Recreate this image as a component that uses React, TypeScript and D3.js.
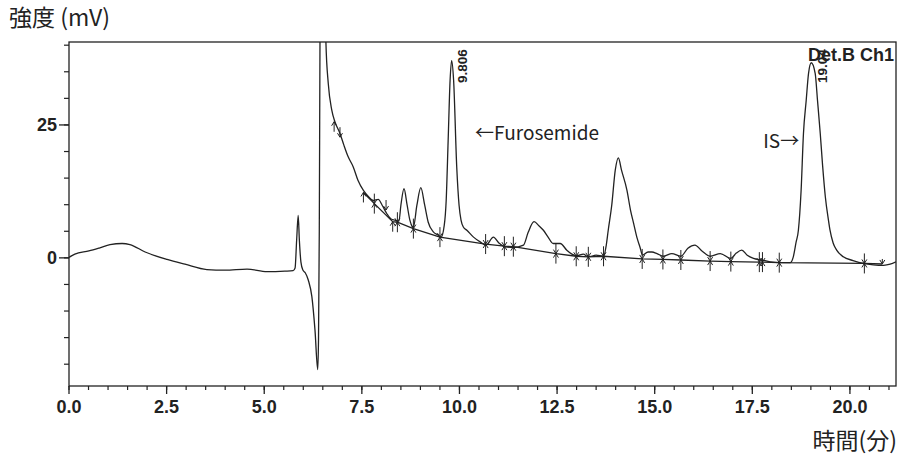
import React from "react";
import * as d3 from "d3";

// Chromatogram trace (time in min, intensity in mV)
const traceTime = [
  0, 0.15, 0.51, 0.79, 1.05, 1.36, 1.56, 1.95, 2.51, 2.97, 3.53, 4.0, 4.56, 5.07, 5.53, 5.74,
  5.79, 5.83, 5.87, 5.9, 5.94, 5.99, 6.05, 6.13, 6.22, 6.3, 6.37, 6.39, 6.41, 6.43, 6.47, 6.53,
  6.58, 6.64, 6.73, 6.81, 6.94, 7.04, 7.15, 7.28, 7.4, 7.54, 7.66, 7.79, 7.92, 8.02, 8.14, 8.25,
  8.35, 8.45, 8.5, 8.58, 8.66, 8.73, 8.82, 8.91, 9.01, 9.11, 9.2, 9.33, 9.45, 9.53, 9.61, 9.66,
  9.71, 9.76, 9.8, 9.85, 9.93, 9.99, 10.04, 10.1, 10.19, 10.36, 10.53, 10.68, 10.87, 11.01, 11.15,
  11.38, 11.64, 11.76, 11.91, 12.04, 12.15, 12.27, 12.4, 12.58, 12.75, 12.88, 13.01, 13.17, 13.3,
  13.5, 13.69, 13.76, 13.81, 13.9, 13.99, 14.07, 14.15, 14.29, 14.38, 14.46, 14.55, 14.62, 14.69,
  14.83, 14.93, 15.06, 15.22, 15.44, 15.67, 15.85, 16.03, 16.21, 16.42, 16.68, 16.95, 17.09,
  17.23, 17.37, 17.53, 17.74, 17.96, 18.21, 18.47, 18.55, 18.62, 18.68, 18.75, 18.81, 18.88,
  18.94, 19.01, 19.11, 19.17, 19.24, 19.3, 19.37, 19.45, 19.49, 19.57, 19.66, 19.83, 20.08,
  20.35, 20.6, 20.86, 21.03, 21.18,
];
const traceMv = [
  0.1, 0.7, 1.3, 1.9, 2.5, 2.7, 2.5, 1.1, -0.3, -1.2, -2.2, -2.3, -2.1, -2.6, -2.5, -2.4,
  -1.9, 3.3, 8.0, 3.3, -0.8, -2.3, -2.8, -4.2, -7.3, -13.6, -21.0, -15.5, 5, 45, 80, 60,
  40.5, 32.8, 27.8, 25.6, 23.4, 21.2, 19.0, 17.1, 14.6, 12.7, 11.6, 10.8, 11.0, 9.9, 8.3, 7.3,
  7.1, 6.9, 9.9, 13.0, 9.9, 7.1, 5.8, 9.9, 13.2, 9.9, 6.7, 4.9, 4.3, 3.9, 6.1, 10.8,
  22, 33.4, 37.1, 33.4, 17.1, 9.9, 7.1, 5.8, 5.2, 3.9, 3.0, 2.4, 3.9, 2.8, 2.1,
  1.95, 2.4, 4.8, 6.8, 6.0, 5.2, 3.9, 2.7, 2.7, 1.45, 0.7, 0.4, 0.7, 0.2,
  0.5, 0.3, 2.4, 5.2, 9.9, 16.5, 18.8, 16.5, 12.7, 9.0, 6.5, 3.7, 2.1, 0.5,
  1.1, 1.1, 0.8, 0.3, 0.8, 0.3, 1.8, 2.4, 1.3, 0.3, 0.8, -0.1, 0.9,
  1.45, 0.5, -0.1, -0.4, -0.75, -0.9, -0.9, 0.2, 2.9, 5.2, 12.7, 23.4, 29.6,
  34.7, 36.7, 34.7, 29.6, 23.4, 17.4, 11.5, 7.1, 5.2, 2.8, 1.45, 0.2, -0.5,
  -1.05, -1.3, -1.4, -1.2, -0.75,
];

// Integration baseline
const baseTime = [7.54, 7.82, 8.29, 8.41, 8.82, 9.5, 10.67, 11.15, 11.38, 12.47, 12.99, 13.3, 13.69, 14.68, 15.21, 15.67, 16.42, 16.95, 17.68, 17.76, 18.19, 20.37, 20.83];
const baseMv = [12.3, 10.2, 6.8, 6.7, 5.5, 3.9, 2.6, 2.2, 2.1, 0.8, 0.3, 0.2, 0.3, -0.2, -0.3, -0.4, -0.6, -0.7, -0.8, -0.8, -0.9, -1.05, -1.15];

// Peak start/end marks
const markTime = [6.79, 6.94, 7.54, 7.82, 8.12, 8.29, 8.41, 8.82, 9.5, 10.67, 11.15, 11.38, 12.47, 12.99, 13.3, 13.69, 14.68, 15.21, 15.67, 16.42, 16.95, 17.68, 17.76, 18.19, 20.37, 20.83];
const markMv = [25.6, 22.7, 12.3, 10.2, 9.0, 6.8, 6.7, 5.5, 3.9, 2.6, 2.2, 2.1, 0.8, 0.3, 0.2, 0.3, -0.2, -0.3, -0.4, -0.6, -0.7, -0.8, -0.8, -0.9, -1.05, -1.15];
const markType = ["up", "down", "up", "both", "down", "up", "both", "both", "both", "both", "both", "both", "both", "both", "both", "both", "both", "both", "both", "both", "both", "both", "both", "both", "both", "small"];

// Axis ticks
const xMajor = [0, 2.5, 5, 7.5, 10, 12.5, 15, 17.5, 20];
const xMajorLabels = ["0.0", "2.5", "5.0", "7.5", "10.0", "12.5", "15.0", "17.5", "20.0"];
const yMajor = [0, 25];
const yMajorLabels = ["0", "25"];

// Peak retention-time labels
const peakTimes = [9.806, 19.04];
const peakLabels = ["9.806", "19.04"];

const W = 899;
const H = 456;
const L = 69, R = 896, T = 42, B = 386;

export default function App() {
  const x = d3.scaleLinear().domain([0, 21.18]).range([L, R]);
  const y = d3.scaleLinear().domain([-24.1, 40.6]).range([B, T]);

  const pts: [number, number][] = traceTime.map((t, i) => [t, traceMv[i]]);
  const line = d3
    .line<[number, number]>()
    .x((d) => x(d[0]))
    .y((d) => y(d[1]))
    .curve(d3.curveMonotoneX);
  const basePts: [number, number][] = baseTime.map((t, i) => [t, baseMv[i]]);
  const baseLine = d3
    .line<[number, number]>()
    .x((d) => x(d[0]))
    .y((d) => y(d[1]));

  const xMinor = d3.range(0, 21.01, 0.5);
  const yMinor = d3.range(-20, 40.01, 5);

  const ink = "#222";
  const latin = "'Liberation Sans', Arial, sans-serif";
  const cjk = "'Noto Sans CJK JP', 'Noto Sans', sans-serif";

  return (
    <svg
      width={W}
      height={H}
      style={{ position: "absolute", left: 0, top: 0, background: "#fff" }}
    >
      <defs>
        <clipPath id="plot">
          <rect x={L} y={T} width={R - L} height={B - T} />
        </clipPath>
      </defs>
      <rect width={W} height={H} fill="#fff" />

      {/* frame */}
      <rect x={L} y={T} width={R - L} height={B - T} fill="none" stroke={ink} strokeWidth={1.3} />

      {/* x ticks */}
      {xMinor.map((t) => (
        <line key={"xm" + t} x1={x(t)} x2={x(t)} y1={B} y2={B + 4} stroke={ink} strokeWidth={1.2} />
      ))}
      {xMajor.map((t, i) => (
        <g key={"xM" + t}>
          <line x1={x(t)} x2={x(t)} y1={B} y2={B + 8} stroke={ink} strokeWidth={1.3} />
          <text x={x(t)} y={412.5} textAnchor="middle" fontFamily={latin} fontWeight="bold" fontSize={18} fill={ink}>
            {xMajorLabels[i]}
          </text>
        </g>
      ))}

      {/* y ticks */}
      {yMinor.map((v) => (
        <line key={"ym" + v} x1={L - 5} x2={L} y1={y(v)} y2={y(v)} stroke={ink} strokeWidth={1.2} />
      ))}
      {yMajor.map((v, i) => (
        <g key={"yM" + v}>
          <line x1={L - 10} x2={L} y1={y(v)} y2={y(v)} stroke={ink} strokeWidth={1.3} />
          <text x={57} y={y(v) + 6.5} textAnchor="end" fontFamily={latin} fontWeight="bold" fontSize={18} fill={ink}>
            {yMajorLabels[i]}
          </text>
        </g>
      ))}

      {/* trace */}
      <g clipPath="url(#plot)">
        <path d={line(pts) || ""} fill="none" stroke={ink} strokeWidth={1.3} strokeLinejoin="round" />
        <path d={baseLine(basePts) || ""} fill="none" stroke={ink} strokeWidth={1.3} />
        {markTime.map((t, i) => {
          const mx = x(t);
          const my = y(markMv[i]);
          const tp = markType[i];
          const up = tp === "up" || tp === "both";
          const down = tp === "down" || tp === "both" || tp === "small";
          const len = tp === "small" ? 5 : 10;
          return (
            <g key={"mk" + i} stroke={ink} strokeWidth={1} fill="none">
              {up && (
                <>
                  <line x1={mx} x2={mx} y1={my} y2={my + len} />
                  <polyline points={`${mx - 2.5},${my + 4} ${mx},${my} ${mx + 2.5},${my + 4}`} />
                </>
              )}
              {down && (
                <>
                  <line x1={mx} x2={mx} y1={my - len} y2={my} />
                  <polyline points={`${mx - 2.5},${my - 4} ${mx},${my} ${mx + 2.5},${my - 4}`} />
                </>
              )}
            </g>
          );
        })}
      </g>

      {/* peak RT labels */}
      {peakTimes.map((t, i) => (
        <text
          key={"pl" + i}
          transform={`translate(${x(t) + 15},83) rotate(-90)`}
          fontFamily={latin}
          fontWeight="bold"
          fontSize={13.5}
          fill={ink}
        >
          {peakLabels[i]}
        </text>
      ))}

      <text x={894} y={61} textAnchor="end" fontFamily={latin} fontWeight="bold" fontSize={18} fill={ink}>
        Det.B Ch1
      </text>

      {/* annotations */}
      <text x={x(10.4)} y={y(22.1)} fontFamily={cjk} fontSize={19} fill={ink}>
        ←Furosemide
      </text>
      <text x={x(17.78)} y={y(20.6)} fontFamily={cjk} fontSize={19} fill={ink}>
        IS→
      </text>

      {/* axis titles */}
      <text x={9} y={26} fontFamily={cjk} fontSize={23} fill={ink}>
        強度 (mV)
      </text>
      <text x={897} y={449} textAnchor="end" fontFamily={cjk} fontSize={23} fill={ink}>
        時間(分)
      </text>
    </svg>
  );
}
